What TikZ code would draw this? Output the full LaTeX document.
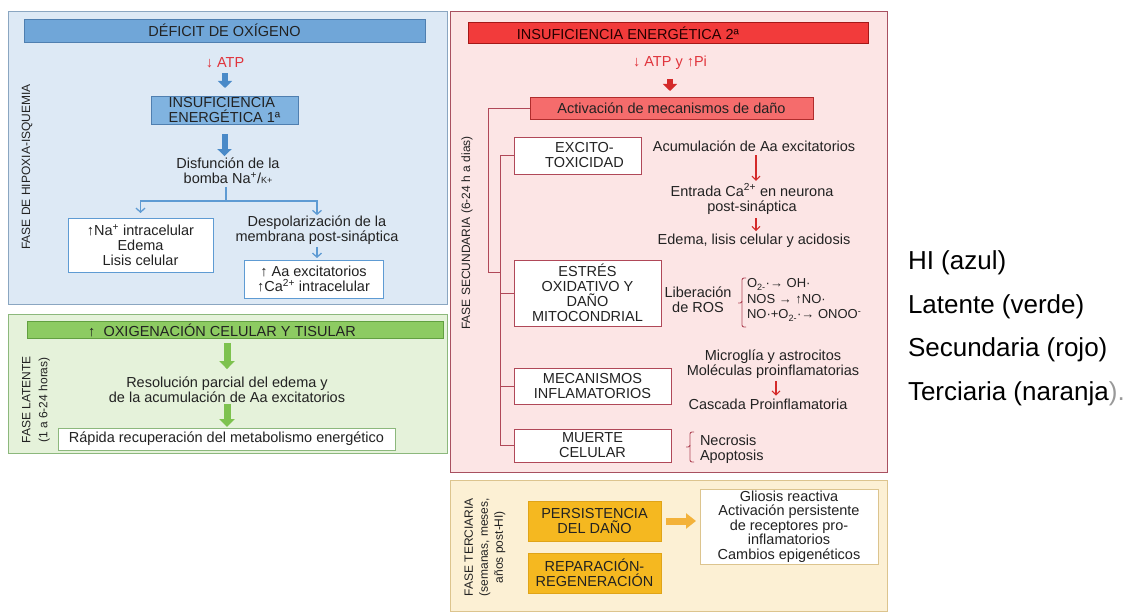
\documentclass[tikz,border=0pt]{standalone}
\usepackage{fontspec}
\setmainfont{Liberation Sans}
\usetikzlibrary{arrows.meta}
\definecolor{txt}{HTML}{222222}
\definecolor{bluebg}{HTML}{DDE9F5}
\definecolor{blueborder}{HTML}{8AA6C1}
\definecolor{bluehead}{HTML}{70A6D8}
\definecolor{bluebox}{HTML}{80B3E0}
\definecolor{blueheadborder}{HTML}{4F7FB0}
\definecolor{bluearrow}{HTML}{4A8AC8}
\definecolor{bluethin}{HTML}{5E9BD3}
\definecolor{greenbg}{HTML}{E5F2DA}
\definecolor{greenborder}{HTML}{8CB87C}
\definecolor{greenhead}{HTML}{8DCB62}
\definecolor{greenheadborder}{HTML}{62A040}
\definecolor{greenarrow}{HTML}{7DC24E}
\definecolor{redbg}{HTML}{FCE5E5}
\definecolor{redborder}{HTML}{A85060}
\definecolor{redhead}{HTML}{F23B3B}
\definecolor{redheadborder}{HTML}{A41818}
\definecolor{redact}{HTML}{F56C6C}
\definecolor{redactborder}{HTML}{B02C2C}
\definecolor{redarrow}{HTML}{D42A2A}
\definecolor{redtxt}{HTML}{E0343C}
\definecolor{redline}{HTML}{B04858}
\definecolor{orbg}{HTML}{FCF0D4}
\definecolor{orborder}{HTML}{DCC48E}
\definecolor{orbox}{HTML}{F5B820}
\definecolor{orboxborder}{HTML}{E0A418}
\definecolor{orarrow}{HTML}{F3B23A}
\newcommand\bodyfs{\fontsize{14.5}{15}\selectfont}
\newcommand\smallfs{\fontsize{13}{15.5}\selectfont}
\newcommand\labfs{\fontsize{12}{15}\selectfont}
\newcommand\legfs{\fontsize{26}{30}\selectfont}
\begin{document}
\begin{tikzpicture}[x=1pt,y=-1pt,
 every node/.style={inner sep=0pt,outer sep=0pt,font=\bodyfs,text=txt},
 pnl/.style 2 args={anchor=north west,fill=#1,draw=#2,line width=1pt},
 bx/.style 2 args={anchor=north west,fill=#1,draw=#2,line width=0.9pt,align=center},
 txtn/.style={align=center},
 vlab/.style={rotate=90,align=center,font=\labfs},
 bblock/.style={line width=6pt,draw=bluearrow,-{Triangle[width=14pt,length=7pt]}},
 gblock/.style={line width=7pt,draw=greenarrow,-{Triangle[width=15pt,length=8pt]}},
 rblock/.style={line width=6pt,draw=redarrow,-{Triangle[width=14pt,length=7pt]}},
 oblock/.style={line width=7pt,draw=orarrow,-{Triangle[width=15pt,length=10pt]}},
 bthin/.style={line width=1.3pt,draw=bluethin},
 bthinarr/.style={bthin,-{Straight Barb[length=4pt,width=9pt]}},
 rthinarr/.style={line width=1.1pt,draw=redarrow,-{Straight Barb[length=4pt,width=8pt]}},
 rline/.style={line width=0.9pt,draw=redline},
 legend/.style={anchor=base west,font=\legfs,text=black},
]
\useasboundingbox (0,0) rectangle (1133,612);

% ---------------- blue panel: hypoxia-ischemia
\node[pnl={bluebg}{blueborder},minimum width=439pt,minimum height=293pt] (pB) at (8,12) {};
\node[bx={bluehead}{blueheadborder},minimum width=401pt,minimum height=23pt] (hB) at (24,19) {DÉFICIT DE OXÍGENO};
\node[text=redtxt] (atp) at (225,63) {↓ ATP};
\node[bx={bluebox}{blueheadborder},minimum width=147pt,minimum height=28pt,align=left] (ins1) at (151,96) {INSUFICIENCIA\\ENERGÉTICA 1ª};
\node[txtn] (disf) at (228,171) {Disfunción de la\\bomba Na\textsuperscript{+}/{\fontsize{9}{10}\selectfont K+}};
\node[bx={white}{bluethin},minimum width=145pt,minimum height=54pt,line width=0.8pt] (na) at (68,218) {↑Na\textsuperscript{+} intracelular\\Edema\\Lisis celular};
\node[txtn] (desp) at (317,230.5) {Despolarización de la\\membrana post-sináptica};
\node[bx={white}{bluethin},minimum width=139pt,minimum height=38pt,line width=0.8pt] (aa) at (244,260) {↑ Aa excitatorios\\↑Ca\textsuperscript{2+} intracelular};
\coordinate (br) at (226,201);
\draw[bblock,shorten <=5pt,shorten >=8pt] (atp.south) -- (atp.south |- ins1.north);
\draw[bblock,shorten <=10pt,shorten >=2pt] (ins1.south) -- (ins1.south |- disf.north);
\draw[bthin] ([yshift=-3pt]disf.south -| br) -- (br);
\draw[bthinarr] (br) -| ([yshift=5pt]na.north);
\draw[bthinarr] (br) -| ([yshift=1pt]desp.north);
\draw[bthinarr,shorten <=2pt,shorten >=2pt] (desp.south) -- (desp.south |- aa.north);
\node[vlab] (vB) at (27,167) {FASE DE HIPOXIA-ISQUEMIA};

% ---------------- green panel: latent phase
\node[pnl={greenbg}{greenborder},minimum width=439pt,minimum height=138pt] (pG) at (8,315) {};
\node[bx={greenhead}{greenheadborder},minimum width=416pt,minimum height=17pt] (hG) at (27,321) {};
\node (hGt) at (222,330) {↑\ \ OXIGENACIÓN CELULAR Y TISULAR};
\node[txtn] (res) at (227,390) {Resolución parcial del edema y\\de la acumulación de Aa excitatorios};
\node[bx={white}{greenborder},minimum width=337pt,minimum height=22pt] (rap) at (58,428) {Rápida recuperación del metabolismo energético};
\draw[gblock,shorten <=5pt,shorten >=8pt] (res.north |- hG.south) -- (res.north);
\draw[gblock,shorten <=1pt,shorten >=1pt] (res.south) -- (res.south |- rap.north);
\node[vlab,font=\fontsize{12}{17}\selectfont] (vG) at (36,400) {FASE LATENTE\\(1 a 6-24 horas)};

% ---------------- red panel: secondary phase
\node[pnl={redbg}{redborder},minimum width=437pt,minimum height=460pt] (pR) at (450,12) {};
\node[bx={redhead}{redheadborder},minimum width=400pt,minimum height=21pt] (hR) at (468,22) {};
\node[text=black!85!red] (hRt) at (628,33) {INSUFICIENCIA ENERGÉTICA 2ª};
\node[text=redtxt] (atp2) at (670,63) {↓ ATP y ↑Pi};
\node[bx={redact}{redactborder},minimum width=283pt,minimum height=22pt] (act) at (530,97) {Activación de mecanismos de daño};
\draw[rblock,shorten <=9pt,shorten >=6pt] (atp2.south) -- (atp2.south |- act.north);

\node[bx={white}{redline},minimum width=127pt,minimum height=37pt,line width=0.8pt] (exc) at (514,137) {\hspace*{14pt}EXCITO-\\\hspace*{14pt}TOXICIDAD};
\node[bx={white}{redline},minimum width=147pt,minimum height=66pt,line width=0.8pt] (est) at (514,260) {ESTRÉS\\OXIDATIVO Y\\DAÑO\\MITOCONDRIAL};
\node[bx={white}{redline},minimum width=157pt,minimum height=36pt,line width=0.8pt] (mec) at (514,368) {MECANISMOS\\INFLAMATORIOS};
\node[bx={white}{redline},minimum width=157pt,minimum height=33pt,line width=0.8pt] (mue) at (514,429) {MUERTE\\CELULAR};

\coordinate (ob) at (488,272);
\coordinate (jn) at (500,272);
\draw[rline] (act.west) -| (ob) -- (jn);
\draw[rline] (exc.west -| jn) -- (mue.west -| jn);
\draw[rline] (exc.west -| jn) -- (exc.west);
\draw[rline] (est.west -| jn) -- (est.west);
\draw[rline] (mec.west -| jn) -- (mec.west);
\draw[rline] (mue.west -| jn) -- (mue.west);

\node (acum) at (754,146) {Acumulación de Aa excitatorios};
\node[txtn] (entr) at (752,199) {Entrada Ca\textsuperscript{2+} en neurona\\post-sináptica};
\node (edema) at (754,241) {Edema, lisis celular y acidosis};
\draw[rthinarr,shorten <=4pt,shorten >=3pt] (acum.south -| 756,0) -- (entr.north -| 756,0);
\draw[rthinarr,shorten <=4pt,shorten >=3pt] (entr.south -| 756,0) -- (edema.north -| 756,0);

\node[txtn] (lib) at (698,300) {Liberación\\de ROS};
\node[anchor=west,align=left,font=\smallfs] (ros) at (747,300) {O\textsubscript{2-}·→ OH·\\NOS → ↑NO·\\NO·+O\textsubscript{2-}·→ ONOO\textsuperscript{-}};
\draw[rline,rounded corners=2pt] (746,278) -| (742,303) -- (738,303);
\draw[rline,rounded corners=2pt] (742,301) |- (746,327);

\node[txtn] (micro) at (773,364) {Microglía y astrocitos\\Moléculas proinflamatorias};
\node (casc) at (768,404) {Cascada Proinflamatoria};
\draw[rthinarr,shorten <=3pt,shorten >=3pt] (micro.south -| 776,0) -- (casc.north -| 776,0);

\node[anchor=west,align=left] (necro) at (700,449) {Necrosis\\Apoptosis};
\draw[rline,rounded corners=2pt] (694,432) -| (690,447) -- (686,447);
\draw[rline,rounded corners=2pt] (690,445) |- (694,462);

\node[vlab] (vR) at (467,233) {FASE SECUNDARIA (6-24 h a dias)};

% ---------------- orange panel: tertiary phase
\node[pnl={orbg}{orborder},minimum width=437pt,minimum height=131pt] (pO) at (450,480) {};
\node[bx={orbox}{orboxborder},minimum width=133pt,minimum height=40pt] (pers) at (528,501) {PERSISTENCIA\\DEL DAÑO};
\node[bx={orbox}{orboxborder},minimum width=133pt,minimum height=40pt] (rep) at (528,553) {REPARACIÓN-\\REGENERACIÓN};
\node[bx={white}{orborder},minimum width=178pt,minimum height=75pt,font=\fontsize{14.5}{14.5}\selectfont] (glio) at (700,489) {Gliosis reactiva\\Activación persistente\\de receptores pro-\\inflamatorios\\Cambios epigenéticos};
\draw[oblock,shorten <=5pt,shorten >=4pt] (pers.east) -- (pers.east -| glio.west);
\node[vlab] (vO) at (485,547) {FASE TERCIARIA\\(semanas, meses,\\años post-HI)};

% ---------------- legend
\node[legend] (l1) at (908,270) {HI (azul)};
\node[legend] (l2) at (908,313.5) {Latente (verde)};
\node[legend] (l3) at (908,357) {Secundaria (rojo)};
\node[legend] (l4) at (908,400.5) {Terciaria (naranja{\color{black!40})}{\color{black!40}.}};
\end{tikzpicture}
\end{document}
